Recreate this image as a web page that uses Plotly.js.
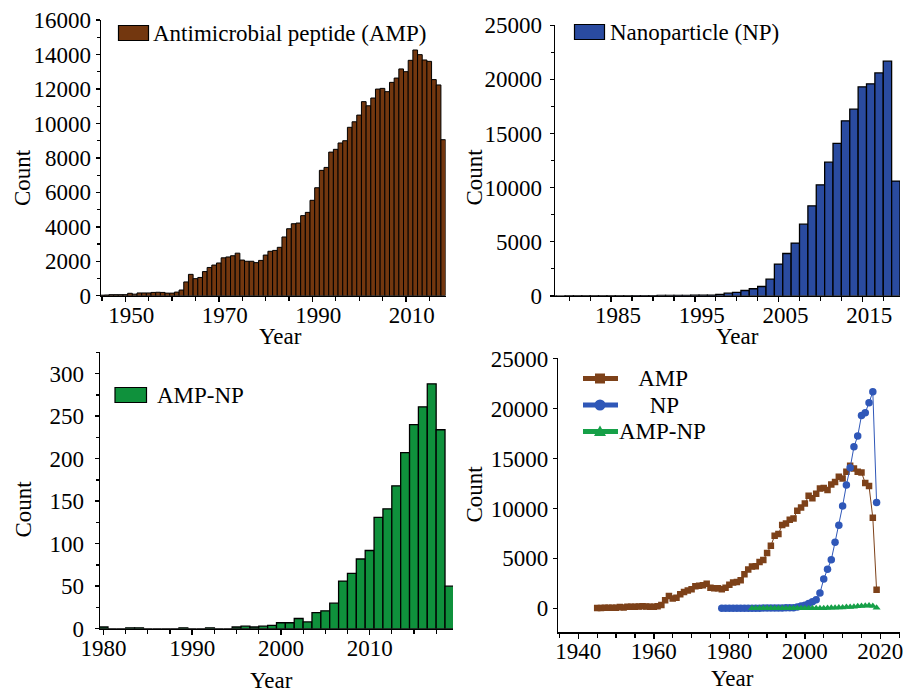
<!DOCTYPE html>
<html>
<head>
<meta charset="utf-8">
<script src="https://cdn.plot.ly/plotly-3.0.1.min.js"></script>
<style>
  html, body { margin: 0; padding: 0; background: #fff; }
  #chart { width: 905px; height: 693px; }
</style>
</head>
<body>
<div id="chart"></div>
<script>
// Publication counts per year: antimicrobial peptides, nanoparticles, and both together.
const ampYears = [1945, 1946, 1947, 1948, 1949, 1950, 1951, 1952, 1953, 1954,
  1955, 1956, 1957, 1958, 1959, 1960, 1961, 1962, 1963, 1964,
  1965, 1966, 1967, 1968, 1969, 1970, 1971, 1972, 1973, 1974,
  1975, 1976, 1977, 1978, 1979, 1980, 1981, 1982, 1983, 1984,
  1985, 1986, 1987, 1988, 1989, 1990, 1991, 1992, 1993, 1994,
  1995, 1996, 1997, 1998, 1999, 2000, 2001, 2002, 2003, 2004,
  2005, 2006, 2007, 2008, 2009, 2010, 2011, 2012, 2013, 2014,
  2015, 2016, 2017, 2018, 2019];
const ampCounts = [30, 40, 60, 60, 60, 60, 140, 90, 160, 160,
  160, 190, 200, 190, 150, 150, 210, 330, 800, 1240,
  990, 1060, 1400, 1640, 1780, 1900, 2200, 2250, 2320, 2470,
  2070, 2000, 2000, 1920, 2050, 2360, 2580, 2630, 2810, 3410,
  3890, 4180, 4220, 4650, 4840, 5540, 6270, 7280, 7450, 8340,
  8500, 8870, 9000, 9780, 10100, 10490, 11270, 11030, 11480, 12000,
  12040, 11850, 12390, 12640, 13170, 13010, 13670, 14270, 14000, 13690,
  13610, 12550, 12240, 9060, 1850];

const npYears = [1978, 1979, 1980, 1981, 1982, 1983, 1984, 1985, 1986, 1987,
  1988, 1989, 1990, 1991, 1992, 1993, 1994, 1995, 1996, 1997,
  1998, 1999, 2000, 2001, 2002, 2003, 2004, 2005, 2006, 2007,
  2008, 2009, 2010, 2011, 2012, 2013, 2014, 2015, 2016, 2017,
  2018, 2019];
const npCounts = [0, 2, 3, 4, 5, 6, 8, 10, 12, 15,
  18, 22, 25, 30, 35, 40, 45, 50, 55, 65,
  125, 245, 310, 490, 650, 860, 1540, 2930, 3910, 4870,
  6620, 8320, 10260, 12350, 14080, 16170, 17250, 19310, 19590, 20600,
  21680, 10600];

const ampNpYears = [1980, 1981, 1982, 1983, 1984, 1985, 1986, 1987, 1988, 1989,
  1990, 1991, 1992, 1993, 1994, 1995, 1996, 1997, 1998, 1999,
  2000, 2001, 2002, 2003, 2004, 2005, 2006, 2007, 2008, 2009,
  2010, 2011, 2012, 2013, 2014, 2015, 2016, 2017, 2018, 2019];
const ampNpCounts = [2, 0, 0, 1, 1, 0, 0, 0, 0, 1,
  0, 0, 1, 0, 0, 2, 3, 2, 3, 4,
  7, 7, 12, 8, 19, 21, 30, 56, 65, 82,
  92, 131, 141, 168, 207, 240, 261, 288, 234, 50];

// The AMP histogram stops at 2018; the combined line plot starts AMP-NP at 1986.
const AMP_BAR_LAST_YEAR = 2018;
const AMPNP_LINE_FIRST_YEAR = 1986;

const seriesNames = ['AMP', 'NP', 'AMP-NP'];
const barLegendText = ['Antimicrobial peptide (AMP)', 'Nanoparticle (NP)', 'AMP-NP'];

// Colours
const BROWN_BAR = '#73370f', BLUE_BAR = '#2a4ba0', GREEN_BAR = '#0f913c';
const BROWN_LINE = '#7d4119', BLUE_LINE = '#2f57b8', GREEN_LINE = '#16a048';

const W = 905, H = 693;
const fx = x => x / W;
const fy = y => 1 - y / H;
const FONT = 'Liberation Serif, Times New Roman, serif';
const tickFont = { family: FONT, size: 23, color: '#000' };

function pick(years, vals, test) {
  const xs = [], ys = [];
  years.forEach((yr, i) => { if (test(yr)) { xs.push(yr); ys.push(vals[i]); } });
  return { xs, ys };
}

const ampBars = pick(ampYears, ampCounts, y => y <= AMP_BAR_LAST_YEAR);
const ampNpLine = pick(ampNpYears, ampNpCounts, y => y >= AMPNP_LINE_FIRST_YEAR);

const traces = [
  { type: 'bar', x: ampBars.xs, y: ampBars.ys, xaxis: 'x', yaxis: 'y', width: 1,
    marker: { color: BROWN_BAR, line: { color: '#000', width: 1 } } },
  { type: 'bar', x: npYears, y: npCounts, xaxis: 'x2', yaxis: 'y2', width: 1,
    marker: { color: BLUE_BAR, line: { color: '#000', width: 1.3 } } },
  { type: 'bar', x: ampNpYears, y: ampNpCounts, xaxis: 'x3', yaxis: 'y3', width: 1,
    marker: { color: GREEN_BAR, line: { color: '#000', width: 1.3 } } },
  { type: 'scatter', mode: 'lines+markers', name: seriesNames[0], x: ampYears, y: ampCounts,
    xaxis: 'x4', yaxis: 'y4', line: { color: BROWN_LINE, width: 1 },
    marker: { symbol: 'square', size: 6.5, color: BROWN_LINE } },
  { type: 'scatter', mode: 'lines+markers', name: seriesNames[1], x: npYears, y: npCounts,
    xaxis: 'x4', yaxis: 'y4', line: { color: BLUE_LINE, width: 1 },
    marker: { symbol: 'circle', size: 7.5, color: BLUE_LINE } },
  { type: 'scatter', mode: 'lines+markers', name: seriesNames[2], x: ampNpLine.xs, y: ampNpLine.ys,
    xaxis: 'x4', yaxis: 'y4', line: { color: GREEN_LINE, width: 1 },
    marker: { symbol: 'triangle-up', size: 7, color: GREEN_LINE } }
];

function xAxis(domainPx, range, tick0, dtick, minorDtick, anchor, labelShift) {
  return {
    domain: [fx(domainPx[0]), fx(domainPx[1])], range: range, anchor: anchor,
    showline: true, linecolor: '#000', linewidth: 1.5,
    ticks: 'outside', ticklen: 5, tickwidth: 1.5, tickcolor: '#000',
    tick0: tick0, dtick: dtick, tickformat: 'd', ticklabelstandoff: -7, ticklabelshift: labelShift || 0,
    minor: { ticks: 'outside', ticklen: 4, tickwidth: 1.2, tickcolor: '#000', tick0: tick0, dtick: minorDtick, showgrid: false },
    showgrid: false, zeroline: false, tickfont: tickFont, fixedrange: true
  };
}
function yAxis(domainPx, range, dtick, minorDtick, anchor, standoff) {
  const ax = {
    domain: [fy(domainPx[0]), fy(domainPx[1])], range: range, anchor: anchor,
    showline: true, linecolor: '#000', linewidth: 1.5,
    ticks: 'outside', ticklen: 4, tickwidth: 1.5, tickcolor: '#000',
    tick0: 0, dtick: dtick, tickformat: 'd', separatethousands: false,
    ticklabelstandoff: standoff || 0,
    showgrid: false, zeroline: false, tickfont: tickFont, fixedrange: true
  };
  if (minorDtick) ax.minor = { ticks: 'outside', ticklen: 3, tickwidth: 1.2, tickcolor: '#000', tick0: 0, dtick: minorDtick, showgrid: false };
  return ax;
}

const titleFont = { family: FONT, size: 23, color: '#000' };
function label(text, x, y, angle) {
  return { text: text, xref: 'paper', yref: 'paper', x: fx(x), y: fy(y),
    xanchor: 'center', yanchor: 'middle', showarrow: false, textangle: angle || 0, font: titleFont };
}
function legendText(text, x, y) {
  return { text: text, xref: 'paper', yref: 'paper', x: fx(x), y: fy(y),
    xanchor: 'left', yanchor: 'middle', showarrow: false, font: titleFont };
}
function keyBox(x0, y0, x1, y1, color) {
  return { type: 'rect', xref: 'paper', yref: 'paper', x0: fx(x0), x1: fx(x1), y0: fy(y1), y1: fy(y0),
    fillcolor: color, line: { color: '#000', width: 1.2 } };
}
function keyLine(x0, x1, y, color) {
  return { type: 'line', xref: 'paper', yref: 'paper', x0: fx(x0), x1: fx(x1), y0: fy(y), y1: fy(y),
    line: { color: color, width: 5 } };
}

// Legend keys for the line plot (thick sample line with the series marker)
const keyX0 = 583, keyX1 = 618, keyMid = 600;
const keyRows = [378.5, 405, 431.5];
const shapes = [
  keyBox(118.5, 25.5, 148.5, 40.5, BROWN_BAR),
  keyBox(574.5, 24.5, 604.5, 39.5, BLUE_BAR),
  keyBox(115, 387.5, 146.5, 402.5, GREEN_BAR),
  keyLine(keyX0, keyX1, keyRows[0], BROWN_LINE),
  keyLine(keyX0, keyX1, keyRows[1], BLUE_LINE),
  keyLine(keyX0, keyX1, keyRows[2], GREEN_LINE),
  { type: 'rect', xref: 'paper', yref: 'paper', x0: fx(keyMid - 5), x1: fx(keyMid + 5),
    y0: fy(keyRows[0] + 5), y1: fy(keyRows[0] - 5), fillcolor: BROWN_LINE, line: { width: 0 } },
  { type: 'circle', xref: 'paper', yref: 'paper', x0: fx(keyMid - 5.5), x1: fx(keyMid + 5.5),
    y0: fy(keyRows[1] + 5.5), y1: fy(keyRows[1] - 5.5), fillcolor: BLUE_LINE, line: { width: 0 } },
  { type: 'path', xref: 'paper', yref: 'paper', fillcolor: GREEN_LINE, line: { width: 0 },
    path: 'M' + fx(keyMid - 6) + ',' + fy(keyRows[2] + 4.5) + ' L' + fx(keyMid + 6) + ',' + fy(keyRows[2] + 4.5) +
          ' L' + fx(keyMid) + ',' + fy(keyRows[2] - 6) + ' Z' }
];

const annotations = [
  label('Count', 22, 178, -90), label('Year', 280, 337),
  label('Count', 473.5, 177, -90), label('Year', 737.5, 337),
  label('Count', 22.5, 509, -90), label('Year', 271.5, 680),
  label('Count', 473.5, 494, -90), label('Year', 732, 678),
  legendText(barLegendText[0], 151, 33),
  legendText(barLegendText[1], 607.5, 32),
  legendText(barLegendText[2], 154.5, 395),
  legendText('\u00a0\u00a0\u00a0' + seriesNames[0], 619, keyRows[0]),
  legendText('\u00a0\u00a0\u00a0\u00a0\u00a0' + seriesNames[1], 619, keyRows[1]),
  legendText(seriesNames[2], 617, keyRows[2])
];

const layout = {
  width: W, height: H,
  margin: { l: 0, r: 0, t: 0, b: 0 },
  paper_bgcolor: '#fff', plot_bgcolor: '#fff',
  showlegend: false, hovermode: false, bargap: 0,
  font: { family: FONT, color: '#000' },
  xaxis:  xAxis([101, 445.6], [1944.8, 2018.5], 1950, 20, 5, 'y', 6),
  yaxis:  yAxis([295.7, 20.2], [0, 16000], 2000, 1000, 'x', 0),
  xaxis2: xAxis([555, 900], [1978.3, 2019.5], 1985, 10, 2.5, 'y2', 7),
  yaxis2: yAxis([295.8, 25.3], [0, 25000], 5000, 2500, 'x2', 3),
  xaxis3: xAxis([100, 453], [1979.6, 2019.4], 1980, 10, 2.5, 'y3', 0),
  yaxis3: yAxis([628.7, 352.4], [0, 325], 50, 25, 'x3', 6),
  xaxis4: xAxis([558.3, 900], [1934.7, 2025.2], 1940, 20, 5, 'y4', 0),
  yaxis4: yAxis([632.3, 357.7], [-2400, 25100], 5000, null, 'x4', 0),
  shapes: shapes,
  annotations: annotations
};

Plotly.newPlot('chart', traces, layout, { displayModeBar: false, staticPlot: true });
</script>
</body>
</html>
